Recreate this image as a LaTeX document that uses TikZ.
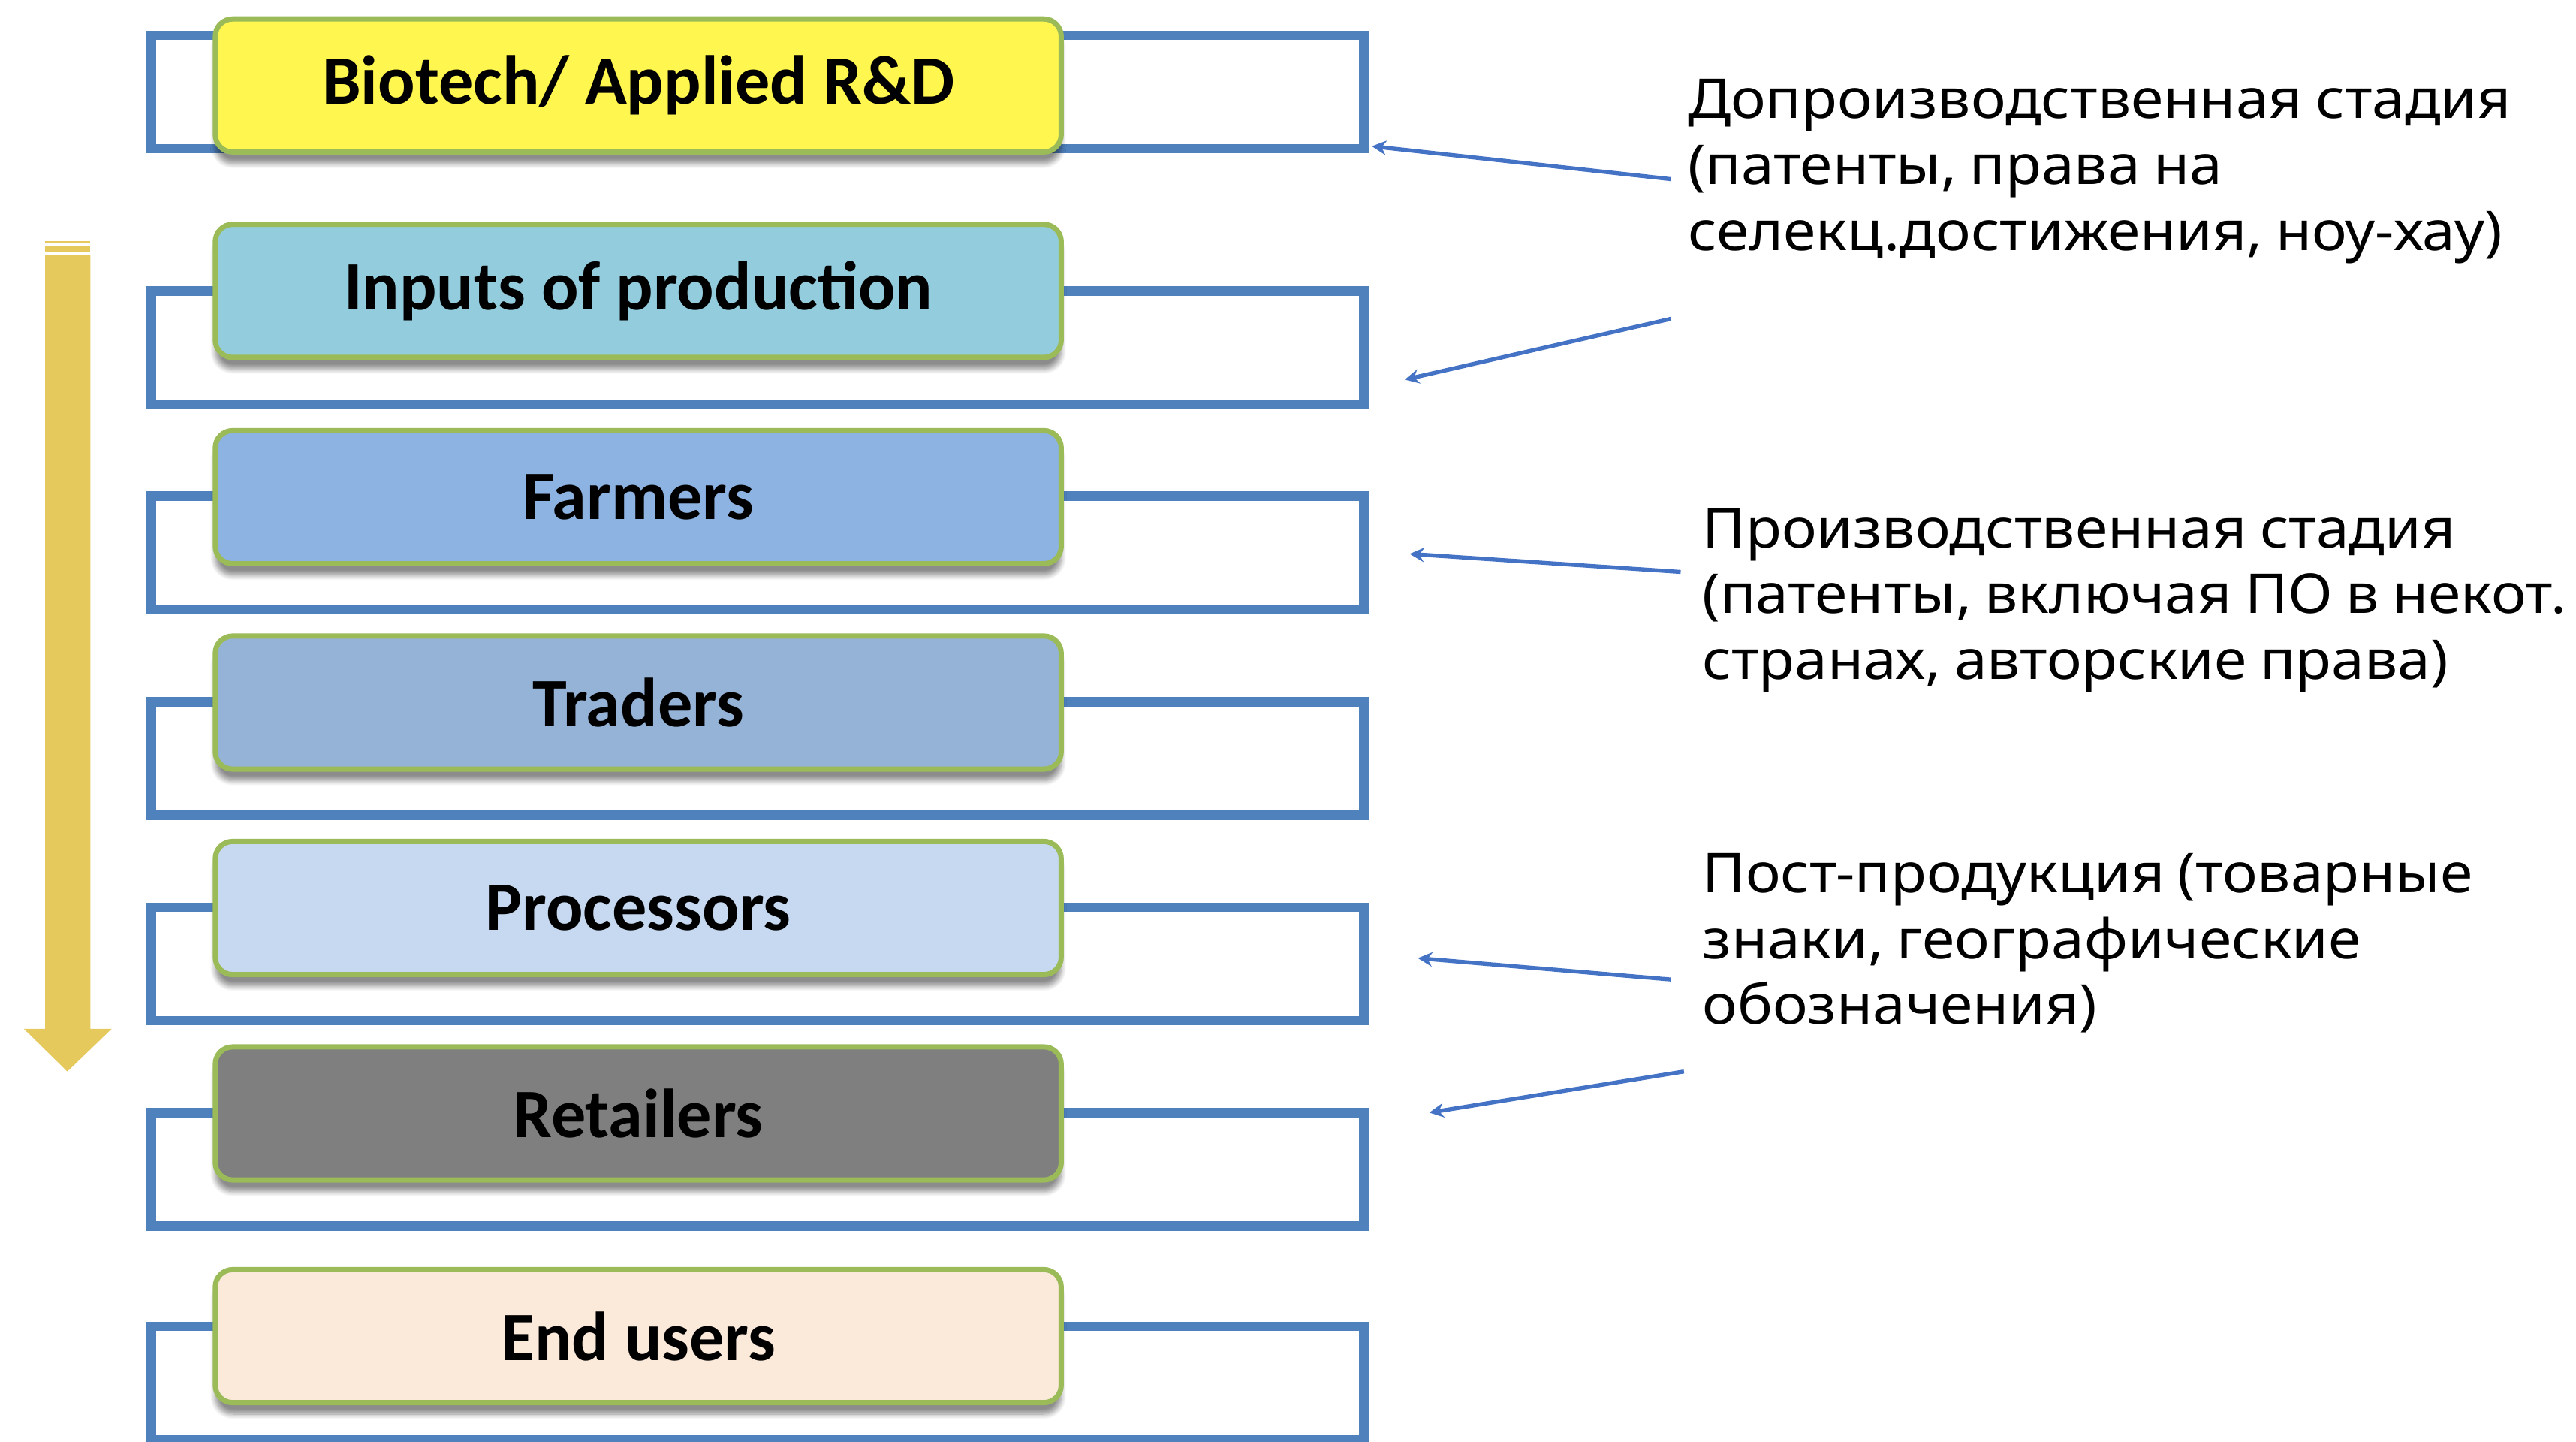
\documentclass[tikz,border=0pt]{standalone}
\usepackage{fontspec}
\newfontfamily\boxfont{Carlito}
\newfontfamily\notefont[FakeStretch=1.075,WordSpace=0.85]{Noto Sans}
\usetikzlibrary{arrows.meta,shadows.blur}

\definecolor{framblue}{HTML}{4F81BD}
\definecolor{pillgreen}{HTML}{9BBB59}
\definecolor{noteblue}{HTML}{4472C4}
\definecolor{flowyellow}{HTML}{E6C95C}
\definecolor{rdyellow}{HTML}{FFF64F}
\definecolor{inputcyan}{HTML}{93CDDD}
\definecolor{farmblue}{HTML}{8DB3E2}
\definecolor{tradeblue}{HTML}{95B3D7}
\definecolor{procblue}{HTML}{C6D9F1}
\definecolor{retailgray}{HTML}{7F7F7F}
\definecolor{userpeach}{HTML}{FBE9DA}

\tikzset{
  frame/.style={draw=framblue, line width=3.3pt},
  pill/.style={draw=pillgreen, line width=1.8pt, rounded corners=6pt,
    minimum width=10.3cm, minimum height=1.62cm, inner sep=0pt,
    font=\boxfont\bfseries\fontsize{24}{28}\selectfont,
    blur shadow={shadow xshift=0pt, shadow yshift=-4pt, shadow blur steps=8, shadow opacity=45}},
  note/.style={anchor=north west, inner sep=0pt, align=left,
    font=\notefont\fontsize{19}{22.8}\selectfont},
  pointer/.style={draw=noteblue, line width=1.4pt, -{Stealth[length=5pt,width=5pt]}}
}

\begin{document}
\begin{tikzpicture}[x=0.02cm, y=-0.02cm]
  \useasboundingbox (0,0) rectangle (1568,877);
  % Flow arrow
  \fill[flowyellow] (27.5,155) -- (55,155) -- (55,626) -- (68,626) -- (41,652)
    -- (14.5,626) -- (27.5,626) -- cycle;
  \fill[flowyellow] (27.5,146.6) rectangle (55,148);
  \fill[flowyellow] (27.5,150) rectangle (55,153);
  % Frames
  \draw[frame] (92,21.5) rectangle (830,90.5);
  \draw[frame] (92,177) rectangle (830,246);
  \draw[frame] (92,302) rectangle (830,371);
  \draw[frame] (92,427) rectangle (830,496);
  \draw[frame] (92,552) rectangle (830,621);
  \draw[frame] (92,677) rectangle (830,746);
  \draw[frame] (92,807) rectangle (830,876);
  % Stages
  \node[pill, fill=rdyellow] (rd) at (388.5,52) {Biotech/ Applied R\&D};
  \node[pill, fill=inputcyan] (inputs) at (388.5,177) {Inputs of production};
  \node[pill, fill=farmblue] (farmers) at (388.5,302.5) {Farmers};
  \node[pill, fill=tradeblue] (traders) at (388.5,427.5) {Traders};
  \node[pill, fill=procblue] (processors) at (388.5,552.5) {Processors};
  \node[pill, fill=retailgray] (retailers) at (388.5,677.5) {Retailers};
  \node[pill, fill=userpeach] (endusers) at (388.5,813) {End users};
  % Notes
  \node[note] (prestage) at (1027,48) {Допроизводственная стадия\\(патенты, права на\\селекц.достижения, ноу-хау)};
  \node[note] (prodstage) at (1036,309) {Производственная стадия\\(патенты, включая ПО в некот.\\странах, авторские права)};
  \node[note] (poststage) at (1036,519) {Пост-продукция (товарные\\знаки, географические\\обозначения)};
  % Pointers
  \coordinate (p1s) at (1017,109);
  \coordinate (p1e) at (835,89);
  \coordinate (p2s) at (1017,194);
  \coordinate (p2e) at (855,231);
  \coordinate (p3s) at (1023,348);
  \coordinate (p3e) at (858,337);
  \coordinate (p4s) at (1017,596);
  \coordinate (p4e) at (863,583);
  \coordinate (p5s) at (1025,652);
  \coordinate (p5e) at (870,677);
  \draw[pointer] (p1s) -- (p1e);
  \draw[pointer] (p2s) -- (p2e);
  \draw[pointer] (p3s) -- (p3e);
  \draw[pointer] (p4s) -- (p4e);
  \draw[pointer] (p5s) -- (p5e);
\end{tikzpicture}
\end{document}
